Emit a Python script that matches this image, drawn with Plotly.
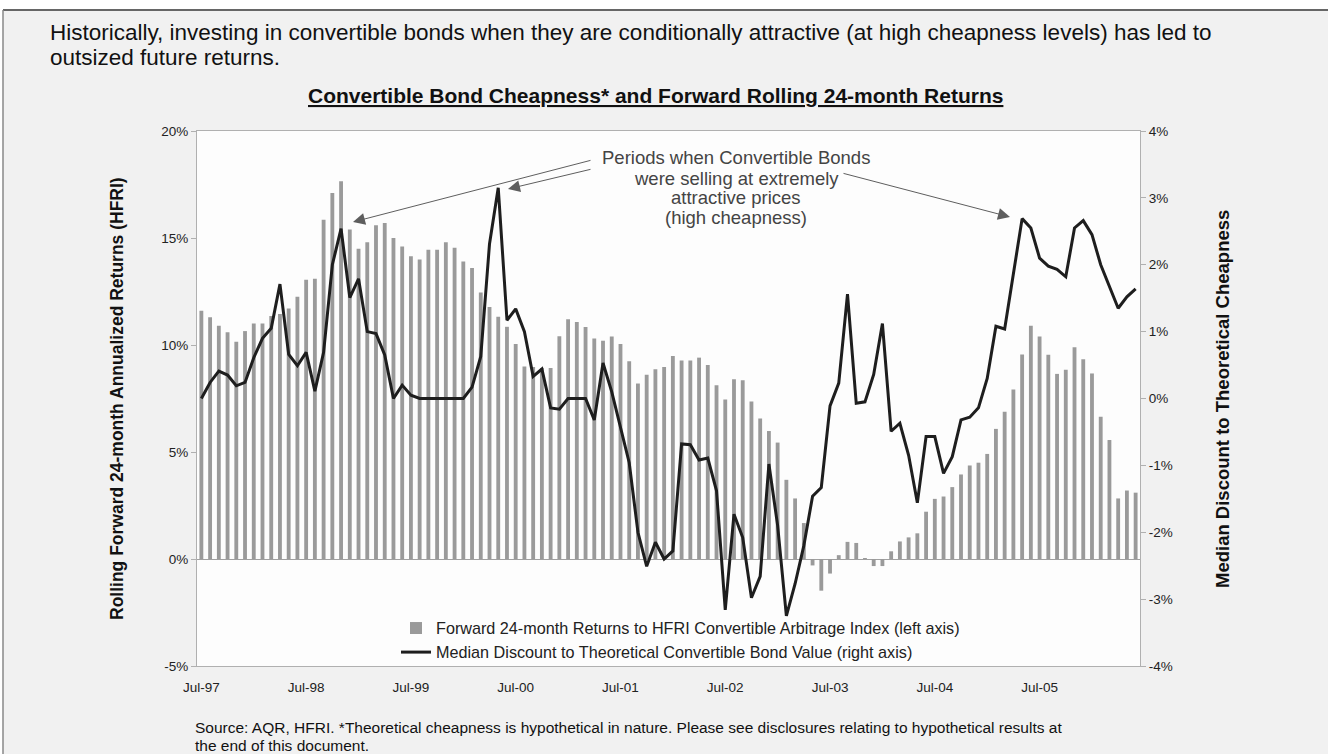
import plotly.graph_objects as go
import pandas as pd

# Monthly categories Jul-97 .. Jun-06
months = list(pd.date_range("1997-07-01", "2006-06-01", freq="MS").strftime("%b-%y"))
tick_labels = ["Jul-97", "Jul-98", "Jul-99", "Jul-00", "Jul-01", "Jul-02", "Jul-03", "Jul-04", "Jul-05"]

left_ticks = [-5, 0, 5, 10, 15, 20]
left_ticktext = ["-5%", "0%", "5%", "10%", "15%", "20%"]
right_ticks = [-4, -3, -2, -1, 0, 1, 2, 3, 4]
right_ticktext = ["-4%", "-3%", "-2%", "-1%", "0%", "1%", "2%", "3%", "4%"]

# Forward 24-month returns to HFRI Convertible Arbitrage Index (%), left axis
fwd_returns = [
    11.6, 11.3, 10.9, 10.6, 10.15, 10.65, 11.0, 11.0, 11.35, 11.45, 11.7, 12.25,
    13.05, 13.1, 15.85, 17.1, 17.65, 15.4, 14.5, 14.8, 15.6, 15.7, 15.0, 14.6,
    14.15, 14.0, 14.45, 14.45, 14.8, 14.55, 13.9, 13.6, 12.45, 11.78, 11.32, 10.85,
    10.05, 9.0, 8.97, 8.92, 8.92, 10.41, 11.2, 11.08, 10.84, 10.3, 10.2, 10.4,
    10.05, 9.24, 8.2, 8.61, 8.87, 8.97, 9.49, 9.27, 9.27, 9.41, 9.06, 8.12,
    7.45, 8.4, 8.35, 7.36, 6.57, 5.98, 5.44, 3.7, 2.83, 1.68, -0.3, -1.48,
    -0.68, 0.18, 0.8, 0.75, 0.03, -0.33, -0.33, 0.36, 0.82, 1.01, 1.2, 2.21,
    2.81, 2.92, 3.36, 3.95, 4.37, 4.5, 4.91, 6.08, 6.88, 7.92, 9.56, 10.9,
    10.4, 9.55, 8.65, 8.84, 9.9, 9.33, 8.67, 6.65, 5.56, 2.83, 3.2, 3.1,
]

# Median discount to theoretical convertible bond value (%), right axis
median_discount = [
    0.0, 0.24, 0.41, 0.35, 0.19, 0.24, 0.61, 0.9, 1.05, 1.71, 0.66, 0.49,
    0.69, 0.11, 0.69, 2.0, 2.54, 1.51, 1.79, 1.0, 0.97, 0.65, 0.0, 0.2,
    0.05, 0.0, 0.0, 0.0, 0.0, 0.0, 0.0, 0.17, 0.63, 2.31, 3.15, 1.17,
    1.34, 1.0, 0.33, 0.44, -0.14, -0.16, 0.0, 0.0, 0.0, -0.32, 0.53, 0.1,
    -0.45, -0.96, -2.0, -2.51, -2.15, -2.4, -2.28, -0.68, -0.69, -0.92, -0.89, -1.38,
    -3.16, -1.73, -2.08, -2.98, -2.66, -0.98, -1.9, -3.25, -2.77, -2.2, -1.46, -1.33,
    -0.11, 0.23, 1.56, -0.07, -0.05, 0.36, 1.12, -0.49, -0.37, -0.85, -1.56, -0.57,
    -0.57, -1.12, -0.87, -0.32, -0.28, -0.14, 0.3, 1.08, 1.04, 1.85, 2.69, 2.55,
    2.1, 1.98, 1.93, 1.82, 2.55, 2.66, 2.45, 2.0, 1.67, 1.35, 1.52, 1.64,
]

headline_lines = [
    "Historically, investing in convertible bonds when they are conditionally attractive "
    "(at high cheapness levels) has led to",
    "outsized future returns.",
]
callout_lines = ["Periods when Convertible Bonds", "were selling at extremely",
                 "attractive prices", "(high cheapness)"]
source_lines = [
    "Source: AQR, HFRI. *Theoretical cheapness is hypothetical in nature. Please see disclosures "
    "relating to hypothetical results at",
    "the end of this document.",
]

FONT = "Liberation Sans, Arial, sans-serif"

fig = go.Figure()
fig.add_trace(go.Bar(
    x=months, y=fwd_returns,
    name="Forward 24-month Returns to HFRI Convertible Arbitrage Index (left axis)",
    marker=dict(color="#9a9a9a", line=dict(width=0)),
    yaxis="y",
))
fig.add_trace(go.Scatter(
    x=months, y=median_discount, mode="lines",
    name="Median Discount to Theoretical Convertible Bond Value (right axis)",
    line=dict(color="#1e1e1e", width=3),
    yaxis="y2",
))

W, H = 1328, 754
L, R, T, B = 197, 1140, 131, 666


def px(x):
    return (x - L) / (R - L)


def py(y):
    return (B - y) / (B - T)


fig.update_layout(
    width=W, height=H,
    margin=dict(l=L, r=W - R, t=T, b=H - B, autoexpand=False),
    paper_bgcolor="#f1f1f1",
    plot_bgcolor="#fdfdfd",
    font=dict(family=FONT, color="#222222", size=13),
    bargap=0.56,
    showlegend=True,
    legend=dict(
        x=px(396), y=py(611), xanchor="left", yanchor="top",
        bgcolor="rgba(0,0,0,0)", font=dict(size=16.2, color="#222222"),
        traceorder="normal", itemwidth=30, tracegroupgap=0,
    ),
    xaxis=dict(
        type="category", categoryorder="array", categoryarray=months,
        tickmode="array", tickvals=tick_labels, ticktext=tick_labels,
        showgrid=False, zeroline=False, ticks="",
        showline=True, mirror=True, linecolor="#b0b0b0", linewidth=1,
        tickfont=dict(size=13.5, color="#222222"), ticklabelstandoff=9,
    ),
    yaxis=dict(
        range=[-5, 20], tickmode="array", tickvals=left_ticks, ticktext=left_ticktext,
        showgrid=False, zeroline=True, zerolinecolor="#a0a0a0", zerolinewidth=1,
        showline=True, linecolor="#b0b0b0", linewidth=1, mirror=True,
        ticks="outside", ticklen=5, tickcolor="#b0b0b0",
        tickfont=dict(size=13.5, color="#222222"),
    ),
    yaxis2=dict(
        range=[-4, 4], overlaying="y", side="right",
        tickmode="array", tickvals=right_ticks, ticktext=right_ticktext,
        showgrid=False, zeroline=False, showline=True, linecolor="#b0b0b0", linewidth=1,
        ticks="outside", ticklen=5, tickcolor="#b0b0b0",
        tickfont=dict(size=13.5, color="#222222"),
    ),
)

annotations = []
for text, yc in zip(headline_lines, [32, 58]):
    annotations.append(dict(text=text, x=px(48), y=py(yc), xref="paper", yref="paper",
                            xanchor="left", yanchor="middle", showarrow=False,
                            font=dict(size=22.5, color="#111111")))
annotations.append(dict(
    text="<b><u>Convertible Bond Cheapness* and Forward Rolling 24-month Returns</u></b>",
    x=px(655), y=py(95), xref="paper", yref="paper", xanchor="center", yanchor="middle",
    showarrow=False, font=dict(size=21, color="#111111")))
annotations.append(dict(
    text="<b>Rolling Forward 24-month Annualized Returns (HFRI)</b>",
    x=px(117), y=py(399), xref="paper", yref="paper", xanchor="center", yanchor="middle",
    textangle=-90, showarrow=False, font=dict(size=17.5, color="#111111")))
annotations.append(dict(
    text="<b>Median Discount to Theoretical Cheapness</b>",
    x=px(1222), y=py(399), xref="paper", yref="paper", xanchor="center", yanchor="middle",
    textangle=-90, showarrow=False, font=dict(size=18.5, color="#111111")))
for text, yc in zip(callout_lines, [157, 178, 198, 218]):
    annotations.append(dict(text=text, x=px(736), y=py(yc), xref="paper", yref="paper",
                            xanchor="center", yanchor="middle", showarrow=False,
                            font=dict(size=18.5, color="#444444")))
for text, yc in zip(source_lines, [727, 745]):
    annotations.append(dict(text=text, x=px(193), y=py(yc), xref="paper", yref="paper",
                            xanchor="left", yanchor="middle", showarrow=False,
                            font=dict(size=15.5, color="#111111")))

# arrows: tip position (paper) and tail offset in pixels
for tip, tail in [((353, 222), (592, 160)), ((508, 189), (592, 169)), ((1010, 217), (842, 173))]:
    annotations.append(dict(
        text="", x=px(tip[0]), y=py(tip[1]), xref="paper", yref="paper",
        showarrow=True, ax=tail[0] - tip[0], ay=tail[1] - tip[1], axref="pixel", ayref="pixel",
        arrowhead=2, arrowsize=2.4, arrowwidth=1, arrowcolor="#5e5e5e", standoff=0,
    ))

fig.update_layout(annotations=annotations)

# page frame: white strip on top and left, dark border line
fig.update_layout(shapes=[
    dict(type="rect", xref="paper", yref="paper", x0=px(-10), x1=px(W + 10), y0=py(10), y1=py(-10),
         fillcolor="white", line=dict(width=0), layer="below"),
    dict(type="rect", xref="paper", yref="paper", x0=px(-10), x1=px(3), y0=py(H + 10), y1=py(-10),
         fillcolor="white", line=dict(width=0), layer="below"),
    dict(type="line", xref="paper", yref="paper", x0=px(3), x1=px(W + 10), y0=py(10), y1=py(10),
         line=dict(color="#666666", width=2)),
    dict(type="line", xref="paper", yref="paper", x0=px(3), x1=px(3), y0=py(10), y1=py(H + 10),
         line=dict(color="#888888", width=1.5)),
])

fig.write_html(
    "out.html",
    config={"displayModeBar": False},
    post_script="document.body.style.margin='0px';document.body.style.overflow='hidden';",
)
